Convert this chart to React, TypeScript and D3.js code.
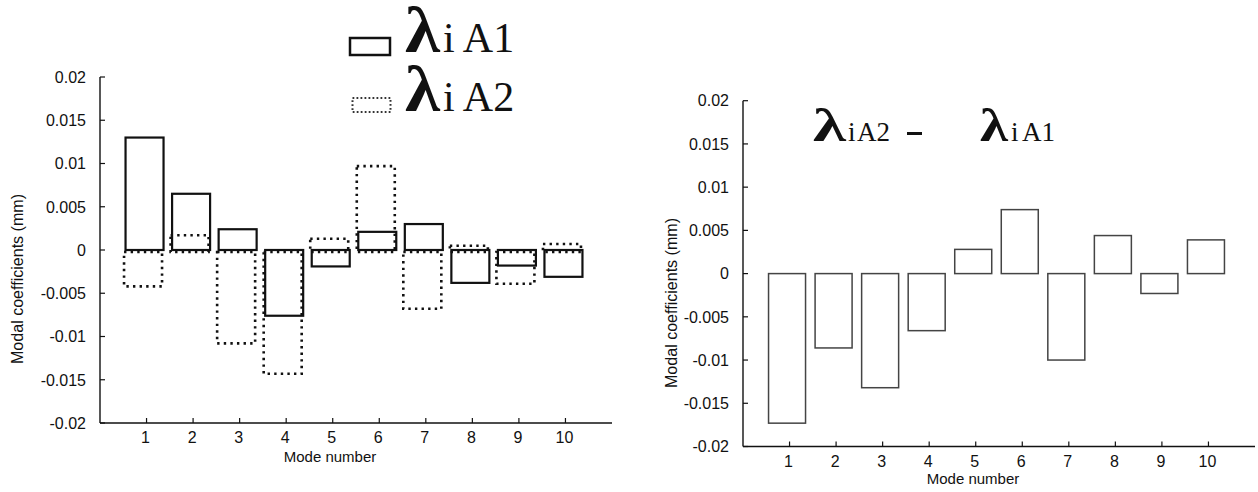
import React from "react";
import * as d3 from "d3";

const modes = [1, 2, 3, 4, 5, 6, 7, 8, 9, 10];
const lambdaA1 = [0.013, 0.0065, 0.0024, -0.0076, -0.0019, 0.0021, 0.003, -0.0038, -0.0018, -0.0031];
const lambdaA2 = [-0.0042, 0.0017, -0.0108, -0.0143, 0.0013, 0.0097, -0.0068, 0.0005, -0.0039, 0.0007];
const diffA2A1 = [-0.0173, -0.0086, -0.0132, -0.0066, 0.0028, 0.0074, -0.01, 0.0044, -0.0023, 0.0039];
const yTicks = [0.02, 0.015, 0.01, 0.005, 0, -0.005, -0.01, -0.015, -0.02];
const yTickLabels = ["0.02", "0.015", "0.01", "0.005", "0", "-0.005", "-0.01", "-0.015", "-0.02"];

const SANS = "'Liberation Sans', Arial, sans-serif";
const SERIF = "'Liberation Serif', 'Times New Roman', serif";

type PanelProps = {
  x0: number;
  yTop: number;
  yBottom: number;
  labelX: number;
  labelY: number;
  titleY: number;
  children: (x: d3.ScaleLinear<number, number>, y: d3.ScaleLinear<number, number>) => React.ReactNode;
};

function Panel({ x0, yTop, yBottom, labelX, labelY, titleY, children }: PanelProps) {
  const x = d3.scaleLinear().domain([0, 11]).range([x0, x0 + 512]);
  const y = d3.scaleLinear().domain([-0.02, 0.02]).range([yBottom, yTop]);
  const axisColor = "#111";
  return (
    <g>
      {children(x, y)}
      <line x1={x0} x2={x0} y1={yTop} y2={yBottom} stroke={axisColor} strokeWidth={1.4} />
      <line x1={x0} x2={x0 + 512} y1={yBottom} y2={yBottom} stroke={axisColor} strokeWidth={1.4} />
      {yTicks.map((t, i) => (
        <g key={"yt" + i}>
          <line x1={x0} x2={x0 + 5} y1={y(t)} y2={y(t)} stroke={axisColor} strokeWidth={1.2} />
          <text x={x0 - 14} y={y(t)} dy="0.36em" textAnchor="end" fontFamily={SANS} fontSize={16} fill="#111">
            {yTickLabels[i]}
          </text>
        </g>
      ))}
      {modes.map((m) => (
        <g key={"xt" + m}>
          <line x1={x(m)} x2={x(m)} y1={yBottom} y2={yBottom - 5} stroke={axisColor} strokeWidth={1.2} />
          <text x={x(m) - 1} y={yBottom + 20} textAnchor="middle" fontFamily={SANS} fontSize={16} fill="#111">
            {m}
          </text>
        </g>
      ))}
      <text x={x0 + 230} y={yBottom + titleY} textAnchor="middle" fontFamily={SANS} fontSize={15} fill="#111">
        Mode number
      </text>
      <text
        transform={`translate(${labelX},${labelY}) rotate(-90)`}
        textAnchor="middle"
        fontFamily={SANS}
        fontSize={16}
        textLength={170}
        lengthAdjust="spacingAndGlyphs"
        fill="#111"
      >
        Modal coefficients  (mm)
      </text>
    </g>
  );
}

export default function App() {
  const bw = 38;
  return (
    <svg width={1258} height={492} style={{ position: "absolute", left: 0, top: 0, background: "#fff" }}>
      {/* Left panel */}
      <Panel x0={100} yTop={77} yBottom={423} labelX={23} labelY={279} titleY={39}>
        {(x, y) => (
          <g>
            {lambdaA2.map((v, i) => (
              <rect
                key={"a2" + i}
                x={x(modes[i]) - 2 - bw / 2 - 1.5}
                y={Math.min(y(v), y(0) + 2)}
                width={bw}
                height={Math.abs(y(v) - y(0) - 2)}
                fill="none"
                stroke="#111"
                strokeWidth={2.6}
                strokeDasharray="2.4,4.2"
              />
            ))}
            {lambdaA1.map((v, i) => (
              <rect
                key={"a1" + i}
                x={x(modes[i]) - 2 - bw / 2}
                y={Math.min(y(v), y(0))}
                width={bw}
                height={Math.abs(y(v) - y(0))}
                fill="none"
                stroke="#111"
                strokeWidth={2.2}
              />
            ))}
          </g>
        )}
      </Panel>
      {/* Right panel */}
      <Panel x0={743} yTop={100.7} yBottom={446.5} labelX={677} labelY={303} titleY={37}>
        {(x, y) => (
          <g>
            {diffA2A1.map((v, i) => (
              <rect
                key={"d" + i}
                x={x(modes[i]) - 2 - bw / 2}
                y={Math.min(y(v), y(0))}
                width={bw - 1}
                height={Math.abs(y(v) - y(0))}
                fill="none"
                stroke="#444"
                strokeWidth={1.5}
              />
            ))}
          </g>
        )}
      </Panel>
      {/* Legend */}
      <rect x={350} y={38} width={40} height={17} fill="none" stroke="#111" strokeWidth={2.5} />
      <rect x={352.5} y={98} width={38} height={14} fill="none" stroke="#333" strokeWidth={2} strokeDasharray="1.8,2.2" />
      <text x={405} y={52} fontFamily={SERIF} fontWeight="bold" fontSize={66} textLength={35} lengthAdjust="spacingAndGlyphs" fill="#111">
        λ
      </text>
      <text x={443} y={52} fontFamily={SERIF} fontSize={42} fill="#111">
        i A1
      </text>
      <text x={405} y={111} fontFamily={SERIF} fontWeight="bold" fontSize={66} textLength={35} lengthAdjust="spacingAndGlyphs" fill="#111">
        λ
      </text>
      <text x={443} y={111} fontFamily={SERIF} fontSize={42} fill="#111">
        i A2
      </text>
      {/* Right title */}
      <text x={813} y={141} fontFamily={SERIF} fontWeight="bold" fontSize={46} textLength={33} lengthAdjust="spacingAndGlyphs" fill="#111">
        λ
      </text>
      <text x={848} y={141} fontFamily={SERIF} fontSize={27} fill="#111">
        i
      </text>
      <text x={857} y={141} fontFamily={SERIF} fontSize={27} fill="#111">
        A2
      </text>
      <rect x={907} y={132} width={15} height={3} fill="#111" />
      <text x={980} y={141} fontFamily={SERIF} fontWeight="bold" fontSize={46} textLength={28} lengthAdjust="spacingAndGlyphs" fill="#111">
        λ
      </text>
      <text x={1011} y={141} fontFamily={SERIF} fontSize={27} fill="#111">
        i
      </text>
      <text x={1022} y={141} fontFamily={SERIF} fontSize={27} fill="#111">
        A1
      </text>
    </svg>
  );
}
